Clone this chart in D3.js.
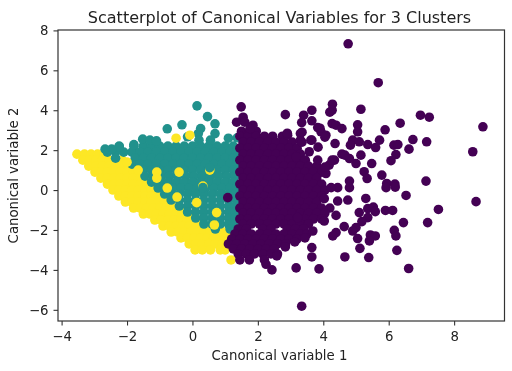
<!DOCTYPE html>
<html>
<head>
<meta charset="utf-8">
<script src="https://cdn.jsdelivr.net/npm/d3@7"></script>
<style>
	html, body { margin: 0; padding: 0; background: #fff; }
	svg { display: block; filter: blur(0.4px); }
	text { font-family: "DejaVu Sans", sans-serif; fill: #222; }
</style>
</head>
<body>
<div id="chart"></div>
<script>
const titleText = 'Scatterplot of Canonical Variables for 3 Clusters';
const xLabelText = 'Canonical variable 1';
const yLabelText = 'Canonical variable 2';
const xTicks = [ -4, -2, 0, 2, 4, 6, 8 ];
const yTicks = [ -6, -4, -2, 0, 2, 4, 6, 8 ];

// rows are [ y, [ x, x, ... ] ]
const yellowRows = [
	[ 1.8, [ -3.53, -3.3, -3.1, -2.9, -2.7 ] ],
	[ 1.5, [ -3.35, -3.15, -2.95, -2.75, -2.55, -2.35, -2.15 ] ],
	[ 1.2, [ -3.17, -2.95, -2.75, -2.55, -2.35, -2.15, -1.95 ] ],
	[ 0.9, [ -2.98, -2.8, -2.6, -2.4, -2.2, -2.0, -1.8, -1.6 ] ],
	[ 0.6, [ -2.8, -2.6, -2.4, -2.2, -2.0, -1.8, -1.6, -1.4 ] ],
	[ 0.3, [ -2.6, -2.4, -2.2, -2.0, -1.8, -1.6, -1.4, -1.2 ] ],
	[ 0, [ -2.43, -2.25, -2.05, -1.85, -1.65, -1.45, -1.25, -1.05 ] ],
	[ -0.3, [ -2.25, -2.05, -1.85, -1.65, -1.45, -1.25, -1.05, -0.85 ] ],
	[ -0.6, [ -2.05, -1.85, -1.65, -1.45, -1.25, -1.05, -0.85, -0.65 ] ],
	[ -0.9, [ -1.8, -1.6, -1.4, -1.2, -1.0, -0.8, -0.6, -0.4 ] ],
	[ -1.2, [ -1.5, -1.3, -1.1, -0.9, -0.7, -0.5, -0.3, -0.1 ] ],
	[ -1.5, [ -1.15, -0.95, -0.75, -0.55, -0.35, -0.15, 0.05, 0.25 ] ],
	[ -1.8, [ -0.9, -0.7, -0.5, -0.3, -0.1, 0.1, 0.3, 0.5 ] ],
	[ -2.1, [ -0.65, -0.45, -0.25, -0.05, 0.15, 0.35, 0.55, 0.75, 0.95, 1.1 ] ],
	[ -2.4, [ -0.35, -0.15, 0.05, 0.25, 0.45, 0.65, 0.85, 1.05 ] ],
	[ -2.7, [ -0.1, 0.1, 0.3, 0.5, 0.7, 0.9 ] ],
	[ -3.0, [ 0.08, 0.3, 0.55, 0.85, 1.0 ] ],
	[ -3.5, [ 1.18 ] ],
];

const tealRows = [
	[ 2.2, [ -2.24, -1.79, -1.5, -1.25, -1.0, -0.75, -0.5, -0.25, 0, 0.25, 0.5, 0.75, 1.0, 1.25 ] ],
	[ 1.9, [ -2.6, -2.35, -2.1, -1.85, -1.6, -1.35, -1.1, -0.85, -0.6, -0.35, -0.1, 0.15, 0.4, 0.65, 0.9, 1.15, 1.35 ] ],
	[ 1.6, [ -2.35, -1.75, -1.5, -1.25, -1, -0.75, -0.5, -0.25, 0, 0.25, 0.5, 0.75, 1.0, 1.25 ] ],
	[ 1.3, [ -1.85, -1.6, -1.35, -1.1, -0.85, -0.6, -0.35, -0.1, 0.15, 0.4, 0.65, 0.9, 1.15, 1.35 ] ],
	[ 1.0, [ -1.5, -1.25, -1, -0.75, -0.5, -0.25, 0, 0.25, 0.5, 0.75, 1.0, 1.25 ] ],
	[ 0.7, [ -1.45, -1.2, -0.95, -0.7, -0.45, -0.2, 0.05, 0.3, 0.55, 0.8, 1.05, 1.3 ] ],
	[ 0.4, [ -1.25, -1.0, -0.75, -0.5, -0.25, 0, 0.25, 0.5, 0.75, 1.0, 1.25 ] ],
	[ 0.1, [ -1.05, -0.85, -0.6, -0.35, -0.1, 0.15, 0.4, 0.65, 0.9, 1.15, 1.35 ] ],
	[ -0.2, [ -0.85, -0.65, -0.4, -0.15, 0.1, 0.35, 0.6, 0.85, 1.1, 1.3 ] ],
	[ -0.5, [ -0.65, -0.4, -0.15, 0.1, 0.35, 0.6, 0.85, 1.1, 1.35 ] ],
	[ -0.8, [ -0.4, -0.15, 0.1, 0.35, 0.6, 0.85, 1.1, 1.3 ] ],
	[ -1.1, [ -0.15, 0.1, 0.35, 0.6, 0.85, 1.1, 1.3 ] ],
	[ -1.4, [ 0.1, 0.35, 0.6, 0.85, 1.1, 1.3 ] ],
	[ -1.7, [ 0.35, 0.6, 0.85, 1.1, 1.3 ] ],
	[ -1.95, [ 0.7, 1.15 ] ],
];

const tealTop = [
	[ 0.14, 4.22 ], [ 0.46, 3.68 ], [ 0.69, 3.32 ], [ -0.32, 3.27 ], [ -0.77, 3.07 ], [ 0.25, 3.08 ],
	[ 0.69, 2.83 ], [ 0.18, 2.83 ], [ -0.15, 2.67 ], [ 1.1, 2.6 ], [ 1.37, 2.62 ], [ -1.52, 2.55 ],
	[ -1.3, 2.5 ], [ -1.1, 2.47 ], [ -1.79, 2.28 ], [ -2.24, 2.17 ], [ -2.47, 2.05 ], [ -2.67, 2.05 ], [ 0.55, 2.5 ], [ 0.2, 2.5 ],
];

// yellow points that sit on top of the teal ones
const yellowOnTop = [
	[ -0.5, 2.6 ], [ -0.08, 2.75 ], [ -2.0, 1.4 ], [ -1.66, 1.0 ], [ -1.09, 0.9 ], [ -1.09, 0.6 ],
	[ -0.41, 0.9 ], [ 0.53, 1.0 ], [ 0.32, 0.2 ], [ -0.47, -0.35 ], [ -0.77, 0.1 ], [ 0.74, -1.13 ], [ 0.67, -1.75 ], [ 0.13, -0.63 ],
];

// teal points that cover most of a yellow one, leaving a thin crescent
const tealOnTop = [
	[ 0.53, 1.12 ], [ 0.32, 0.12 ],
];

const purpleRows = [
	[ 2.95, [ 1.5, 1.75, 1.95 ] ],
	[ 2.7, [ 1.45, 1.7, 1.95, 2.2, 2.45, 2.75 ] ],
	[ 2.4, [ 1.55, 1.8, 2.05, 2.3, 2.55, 2.8, 3.05 ] ],
	[ 2.1, [ 1.45, 1.7, 1.95, 2.2, 2.45, 2.7, 2.95, 3.2 ] ],
	[ 1.8, [ 1.55, 1.8, 2.05, 2.3, 2.55, 2.8, 3.05, 3.3 ] ],
	[ 1.5, [ 1.45, 1.7, 1.95, 2.2, 2.45, 2.7, 2.95, 3.2, 3.45 ] ],
	[ 1.2, [ 1.55, 1.8, 2.05, 2.3, 2.55, 2.8, 3.05, 3.3, 3.55, 3.8 ] ],
	[ 0.9, [ 1.45, 1.7, 1.95, 2.2, 2.45, 2.7, 2.95, 3.2, 3.45, 3.7, 3.95 ] ],
	[ 0.6, [ 1.55, 1.8, 2.05, 2.3, 2.55, 2.8, 3.05, 3.3, 3.55, 3.8 ] ],
	[ 0.3, [ 1.45, 1.7, 1.95, 2.2, 2.45, 2.7, 2.95, 3.2, 3.45, 3.7, 3.95 ] ],
	[ 0, [ 1.55, 1.8, 2.05, 2.3, 2.55, 2.8, 3.05, 3.3, 3.55, 3.8, 4.05 ] ],
	[ -0.3, [ 1.45, 1.7, 1.95, 2.2, 2.45, 2.7, 2.95, 3.2, 3.45, 3.7, 3.95 ] ],
	[ -0.6, [ 1.55, 1.8, 2.05, 2.3, 2.55, 2.8, 3.05, 3.3, 3.55, 3.8 ] ],
	[ -0.9, [ 1.45, 1.7, 1.95, 2.2, 2.45, 2.7, 2.95, 3.2, 3.45, 3.7, 3.95, 4.2 ] ],
	[ -1.15, [ 1.55, 1.8, 2.05, 2.3, 2.55, 2.8, 3.05, 3.3, 3.55, 3.8, 4.05 ] ],
	[ -1.45, [ 1.45, 1.7, 1.95, 2.2, 2.45, 2.7, 2.95, 3.2, 3.45, 3.7, 3.95 ] ],
	[ -1.7, [ 1.55, 1.8, 2.05, 2.3, 2.55, 2.8, 3.05, 3.3, 3.55 ] ],
	[ -1.95, [ 1.4, 1.65, 2.15, 2.4, 2.9, 3.15, 3.4 ] ],
	[ -2.2, [ 1.3, 1.55, 1.8, 2.05, 2.3, 2.55, 2.8, 3.05, 3.3, 3.5 ] ],
	[ -2.45, [ 1.2, 1.45, 1.7, 1.95, 2.2, 2.45, 2.7, 2.95, 3.2 ] ],
	[ -2.7, [ 1.1, 1.35, 1.6, 1.85, 2.1, 2.35, 2.6, 2.85 ] ],
	[ -2.95, [ 1.25, 1.5, 1.75, 2.0, 2.25, 2.5 ] ],
	[ -3.2, [ 1.4, 1.65, 1.9, 2.15, 2.4, 2.6 ] ],
	[ -3.5, [ 1.45, 1.74, 2.2 ] ],
];

const purpleScatter = [
	[ 4.76, 7.33 ], [ 5.68, 5.38 ], [ 4.28, 4.3 ], [ 4.27, 4.0 ], [ 4.2, 3.9 ], [ 3.65, 4.0 ], [ 3.4, 3.75 ], [ 2.84, 3.78 ],
	[ 3.65, 3.47 ], [ 3.34, 3.38 ], [ 5.15, 4.05 ], [ 6.97, 3.75 ], [ 7.24, 3.65 ], [ 8.88, 3.17 ], [ 8.57, 1.92 ], [ 6.35, 3.35 ],
	[ 5.89, 3.02 ], [ 5.05, 3.27 ], [ 5.05, 2.92 ], [ 4.27, 3.33 ], [ 4.39, 3.25 ], [ 4.57, 3.08 ], [ 3.83, 3.13 ], [ 3.93, 2.92 ],
	[ 4.08, 2.75 ], [ 3.3, 2.83 ], [ 3.3, 2.5 ], [ 2.91, 2.75 ], [ 3.62, 2.5 ], [ 4.36, 2.33 ], [ 4.9, 2.5 ], [ 4.83, 2.25 ],
	[ 5.1, 2.42 ], [ 5.36, 2.28 ], [ 5.6, 2.13 ], [ 5.72, 2.5 ], [ 6.16, 2.25 ], [ 6.28, 2.28 ], [ 6.74, 2.53 ], [ 7.16, 2.42 ],
	[ 6.62, 2.05 ], [ 6.22, 1.78 ], [ 6.07, 1.47 ], [ 5.48, 1.33 ], [ 4.57, 1.8 ], [ 4.34, 1.5 ], [ 4.18, 1.25 ], [ 5.15, 1.75 ],
	[ 5.0, 1.33 ], [ 4.8, 1.58 ], [ 5.25, 0.92 ], [ 5.34, 0.58 ], [ 5.79, 0.75 ], [ 5.94, 0.33 ], [ 6.19, 0.3 ], [ 7.14, 0.45 ],
	[ 4.8, 0.45 ], [ 4.08, 0.83 ], [ 3.83, 1.5 ], [ 3.57, 1.92 ], [ 3.17, 1.67 ], [ 8.67, -0.58 ], [ 7.52, -0.97 ], [ 7.19, -1.63 ],
	[ 6.45, -1.63 ], [ 6.53, -0.27 ], [ 5.92, 0.12 ], [ 6.2, 0.15 ], [ 5.3, -0.42 ], [ 5.9, -1.02 ], [ 6.12, -1.02 ], [ 5.1, -1.13 ],
	[ 5.36, -0.93 ], [ 5.53, -0.85 ], [ 5.59, -1.08 ], [ 5.36, -1.38 ], [ 5.18, -1.58 ], [ 5, -1.88 ], [ 4.9, -2.05 ], [ 4.64, -1.83 ],
	[ 4.39, -2.13 ], [ 4.29, -2.3 ], [ 5.05, -2.43 ], [ 5.44, -2.25 ], [ 5.59, -2.3 ], [ 5.41, -2.55 ], [ 6.17, -2.02 ], [ 6.22, -2.3 ],
	[ 6.25, -3.02 ], [ 5.12, -2.92 ], [ 5.39, -3.38 ], [ 4.66, -3.35 ], [ 3.65, -2.88 ], [ 3.65, -3.35 ], [ 6.61, -3.93 ], [ 3.87, -3.95 ],
	[ 3.17, -3.9 ], [ 3.34, -5.82 ], [ 2.43, -4.0 ], [ 2.25, -3.72 ], [ 2.58, -3.3 ], [ 2.84, -2.85 ],
	[ 3.13, -2.6 ], [ 3.44, -2.4 ], [ 3.68, -2.05 ], [ 4.03, -0.43 ], [ 4.44, -0.55 ], [ 4.75, -0.5 ], [ 4.44, 0.12 ], [ 4.8, 0.12 ],
	[ 4.24, 0.12 ], [ 4.39, -1.27 ], [ 4.03, -1.55 ], [ 3.22, -1.38 ],
	[ 1.49, 4.17 ], [ 1.55, 3.65 ], [ 1.35, 3.4 ], [ 1.85, 3.25 ], [ 1.6, 3.4 ], [ 1.76, 3.08 ], [ 2.9, 2.85 ], [ 3.35, 2.9 ], [ 3.35, 2.4 ],
	[ 3.65, 2.5 ], [ 3.9, 3.1 ], [ 4.05, 2.65 ], [ 3.84, 2.15 ], [ 4.66, 1.75 ], [ 4.27, 1.5 ], [ 4.05, 1.15 ], [ 1.08, -0.38 ],
];

function expandRows( rows ) {
	return rows.flatMap( ( [ y, xs ] ) => xs.map( ( x ) => [ x, y ] ) );
}

const margin = { top: 30, right: 7.5, bottom: 50, left: 58 },
	width = 512 - margin.left - margin.right,
	height = 371 - margin.top - margin.bottom;

const svg = d3.select( '#chart' )
	.append( 'svg' )
	.attr( 'width', 512 )
	.attr( 'height', 371 );

const chartGroup = svg.append( 'g' )
	.attr( 'transform', `translate(${ margin.left },${ margin.top })` );

const x = d3.scaleLinear().domain( [ -4.11, 9.54 ] ).range( [ 0, width ] );
const y = d3.scaleLinear().domain( [ -6.56, 8.02 ] ).range( [ height, 0 ] );

// Draw order matters, purple covers teal and teal covers yellow
const layers = [
	{ points: expandRows( yellowRows ), color: '#fde725' },
	{ points: expandRows( tealRows ).concat( tealTop ), color: '#21918c' },
	{ points: yellowOnTop, color: '#fde725' },
	{ points: tealOnTop, color: '#21918c' },
	{ points: expandRows( purpleRows ).concat( purpleScatter ), color: '#440154' },
];

layers.forEach( ( layer ) => {
	chartGroup.append( 'g' )
		.selectAll( 'circle' )
		.data( layer.points )
		.join( 'circle' )
		.attr( 'cx', ( d ) => x( d[ 0 ] ) )
		.attr( 'cy', ( d ) => y( d[ 1 ] ) )
		.attr( 'r', 4.8 )
		.attr( 'fill', layer.color );
} );

const xAxis = chartGroup.append( 'g' )
	.attr( 'transform', `translate(0,${ height })` )
	.call( d3.axisBottom( x ).tickValues( xTicks ).tickSize( 4.5 ).tickPadding( 6.5 ).tickFormat( ( d ) => String( d ).replace( '-', '\u2212' ) ) );

const yAxis = chartGroup.append( 'g' )
	.call( d3.axisLeft( y ).tickValues( yTicks ).tickSize( 4.5 ).tickPadding( 5 ).tickFormat( ( d ) => String( d ).replace( '-', '\u2212' ) ) );

[ xAxis, yAxis ].forEach( ( axis ) => {
	axis.selectAll( 'text' ).style( 'font-size', '13.3px' );
	axis.selectAll( 'line' ).attr( 'stroke', '#333' ).attr( 'stroke-width', 1.1 );
	axis.select( '.domain' ).remove();
} );

// Box around the plot
chartGroup.append( 'rect' )
	.attr( 'width', width )
	.attr( 'height', height )
	.attr( 'fill', 'none' )
	.attr( 'stroke', '#333' )
	.attr( 'stroke-width', 1.2 );

svg.append( 'text' )
	.attr( 'x', 279.5 )
	.attr( 'y', 22.5 )
	.attr( 'text-anchor', 'middle' )
	.style( 'font-size', '16px' )
	.text( titleText );

svg.append( 'text' )
	.attr( 'x', 279.5 )
	.attr( 'y', 360 )
	.attr( 'text-anchor', 'middle' )
	.style( 'font-size', '13.3px' )
	.text( xLabelText );

svg.append( 'text' )
	.attr( 'transform', 'translate(17.5,175.5) rotate(-90)' )
	.attr( 'text-anchor', 'middle' )
	.style( 'font-size', '13.3px' )
	.text( yLabelText );
</script>
</body>
</html>
